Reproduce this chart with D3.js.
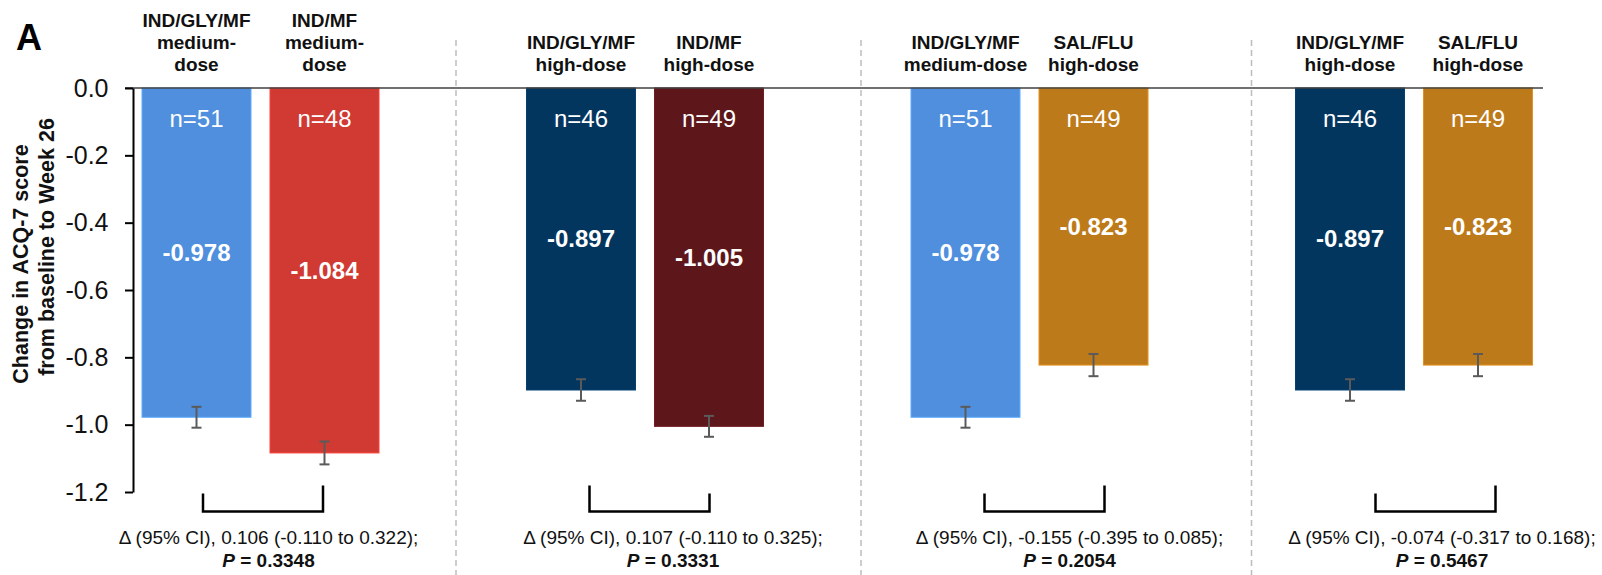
<!DOCTYPE html>
<html>
<head>
<meta charset="utf-8">
<script src="https://cdn.jsdelivr.net/npm/d3@7"></script>
<style>
  html, body { margin: 0; padding: 0; background: #fff; }
  svg { display: block; font-family: "Liberation Sans", Arial, Helvetica, sans-serif; }
</style>
</head>
<body>
<svg id="chart" width="1602" height="575"></svg>
<script>
// ---- data ----
const treatments = ["IND/GLY/MF", "IND/MF", "IND/GLY/MF", "IND/MF", "IND/GLY/MF", "SAL/FLU", "IND/GLY/MF", "SAL/FLU"];
const doseLines = [["medium-", "dose"], ["medium-", "dose"], ["high-dose"], ["high-dose"],
                   ["medium-dose"], ["high-dose"], ["high-dose"], ["high-dose"]];
const nPatients = [51, 48, 46, 49, 51, 49, 46, 49];
const meanChange = [-0.978, -1.084, -0.897, -1.005, -0.978, -0.823, -0.897, -0.823];
const stdErr = [0.031, 0.034, 0.032, 0.031, 0.031, 0.033, 0.032, 0.033];
const armColors = ["#4F8FDD", "#D03A33", "#03365F", "#5D171B", "#4F8FDD", "#BD7A1B", "#03365F", "#BD7A1B"];

const diffEstimate = [0.106, 0.107, -0.155, -0.074];
const ciLower = [-0.110, -0.110, -0.395, -0.317];
const ciUpper = [0.322, 0.325, 0.085, 0.168];
const pValues = ["0.3348", "0.3331", "0.2054", "0.5467"];

const yTicks = [0, -0.2, -0.4, -0.6, -0.8, -1.0, -1.2];
const yTitle = ["Change in ACQ-7 score", "from baseline to Week 26"];

// ---- layout ----
const sepShift = [195.5, 216, 222];      // separator offset from comparison centre
const bracketShift = [2.5, 4.5, 15, 21.5];
const noteShift = [8, 28, 40, 28];
const bracketLegs = [[18, 26], [26, 18], [18, 26], [18, 26]];

const svg = d3.select("#chart");
const hyphen = s => s.replace(/\u2212/g, "-");
const f1 = d3.format(".1f"), f3 = d3.format(".3f");

const y = d3.scaleLinear().domain([-1.2, 0]).range([492, 88]);
const xGroup = d3.scaleBand().domain(d3.range(4)).range([68.25, 1606.25]);
const xArm = d3.scaleBand().domain([0, 1]).range([-118.5, 118.5]).paddingInner(0.1484);
const gc = i => xGroup(i) + xGroup.bandwidth() / 2;

const arms = meanChange.map((v, i) => ({
  i, g: Math.floor(i / 2), k: i % 2, v, se: stdErr[i], n: nPatients[i],
  name: treatments[i], dose: doseLines[i], color: armColors[i]
}));
const armCx = d => gc(d.g) + xArm(d.k) + xArm.bandwidth() / 2;

// panel letter
svg.append("text").attr("x", 16).attr("y", 50)
  .attr("font-size", 36).attr("font-weight", "bold").text("A");

// dashed separators between comparisons
svg.selectAll("line.sep").data(sepShift).join("line")
  .attr("class", "sep")
  .attr("x1", (s, i) => gc(i) + s).attr("x2", (s, i) => gc(i) + s)
  .attr("y1", 40).attr("y2", 575)
  .attr("stroke", "#BDBDBD").attr("stroke-width", 1.5).attr("stroke-dasharray", "6,4");

// bars
svg.selectAll("rect.bar").data(arms).join("rect")
  .attr("class", "bar")
  .attr("x", d => gc(d.g) + xArm(d.k))
  .attr("width", xArm.bandwidth())
  .attr("y", y(0))
  .attr("height", d => y(d.v) - y(0))
  .attr("fill", d => d.color)
  .attr("stroke", d => d3.color(d.color).brighter(0.5))
  .attr("stroke-width", 1);

// zero line
svg.append("line")
  .attr("x1", 125).attr("x2", 1543).attr("y1", y(0)).attr("y2", y(0))
  .attr("stroke", "#404040").attr("stroke-width", 1.5);

// y axis
const yAxis = svg.append("g").attr("transform", "translate(133,0)")
  .call(d3.axisLeft(y).tickValues(yTicks).tickSize(8).tickSizeOuter(0).tickPadding(16.5)
    .tickFormat(d => hyphen(f1(d))));
yAxis.select(".domain").attr("stroke", "#000").attr("stroke-width", 2);
yAxis.selectAll(".tick line").attr("stroke", "#000").attr("stroke-width", 2);
yAxis.selectAll(".tick text").attr("font-size", 25).attr("fill", "#111")
  .attr("font-family", "'Liberation Sans', Arial, sans-serif");

// y axis title
svg.append("text").attr("transform", "translate(28,264) rotate(-90)")
  .attr("text-anchor", "middle").attr("font-size", 21.5).attr("font-weight", "bold")
  .attr("fill", "#111").text(yTitle[0]);
svg.append("text").attr("transform", "translate(54,247) rotate(-90)")
  .attr("text-anchor", "middle").attr("font-size", 21.5).attr("font-weight", "bold")
  .attr("fill", "#111").text(yTitle[1]);

// error bars
const eb = svg.selectAll("g.err").data(arms).join("g").attr("class", "err")
  .attr("stroke", "#5A5A5A").attr("stroke-width", 2);
eb.append("line").attr("x1", armCx).attr("x2", armCx)
  .attr("y1", d => y(d.v + d.se)).attr("y2", d => y(d.v - d.se));
eb.append("line").attr("x1", d => armCx(d) - 5).attr("x2", d => armCx(d) + 5)
  .attr("y1", d => y(d.v + d.se)).attr("y2", d => y(d.v + d.se));
eb.append("line").attr("x1", d => armCx(d) - 5).attr("x2", d => armCx(d) + 5)
  .attr("y1", d => y(d.v - d.se)).attr("y2", d => y(d.v - d.se));

// n labels
svg.selectAll("text.n").data(arms).join("text").attr("class", "n")
  .attr("x", armCx).attr("y", y(0) + 39)
  .attr("text-anchor", "middle").attr("font-size", 24).attr("fill", "#fff")
  .text(d => "n=" + d.n);

// value labels at bar mid-height
svg.selectAll("text.val").data(arms).join("text").attr("class", "val")
  .attr("x", armCx).attr("y", d => y(d.v / 2)).attr("dy", "0.35em")
  .attr("text-anchor", "middle").attr("font-size", 24).attr("font-weight", "bold").attr("fill", "#fff")
  .text(d => hyphen(f3(d.v)));

// arm headers, bottom-aligned above the bars
arms.forEach(d => {
  const lines = [d.name].concat(d.dose);
  const t = svg.append("text").attr("text-anchor", "middle").attr("font-size", 19)
    .attr("font-weight", "bold").attr("fill", "#111");
  lines.forEach((s, j) => {
    t.append("tspan").attr("x", armCx(d))
      .attr("y", 71 - (lines.length - 1 - j) * 22).text(s);
  });
});

// comparison brackets
const brackets = d3.range(4).map(g => ({ g, cx: gc(g) + bracketShift[g], legs: bracketLegs[g] }));
const bottomY = 511.5;
svg.selectAll("path.bracket").data(brackets).join("path").attr("class", "bracket")
  .attr("d", b => `M${b.cx - 60},${bottomY - b.legs[0]} V${bottomY} H${b.cx + 60} V${bottomY - b.legs[1]}`)
  .attr("fill", "none").attr("stroke", "#000").attr("stroke-width", 2.5);

// difference annotations
d3.range(4).forEach(g => {
  const cx = gc(g) + noteShift[g];
  svg.append("text").attr("x", cx).attr("y", 544).attr("text-anchor", "middle")
    .attr("font-size", 19).attr("fill", "#111")
    .text(`\u0394 (95% CI), ${hyphen(f3(diffEstimate[g]))} (${hyphen(f3(ciLower[g]))} to ${hyphen(f3(ciUpper[g]))});`);
  const p = svg.append("text").attr("x", cx).attr("y", 567).attr("text-anchor", "middle")
    .attr("font-size", 19).attr("font-weight", "bold").attr("fill", "#111");
  p.append("tspan").attr("font-style", "italic").text("P");
  p.append("tspan").text(" = " + pValues[g]);
});
</script>
</body>
</html>
